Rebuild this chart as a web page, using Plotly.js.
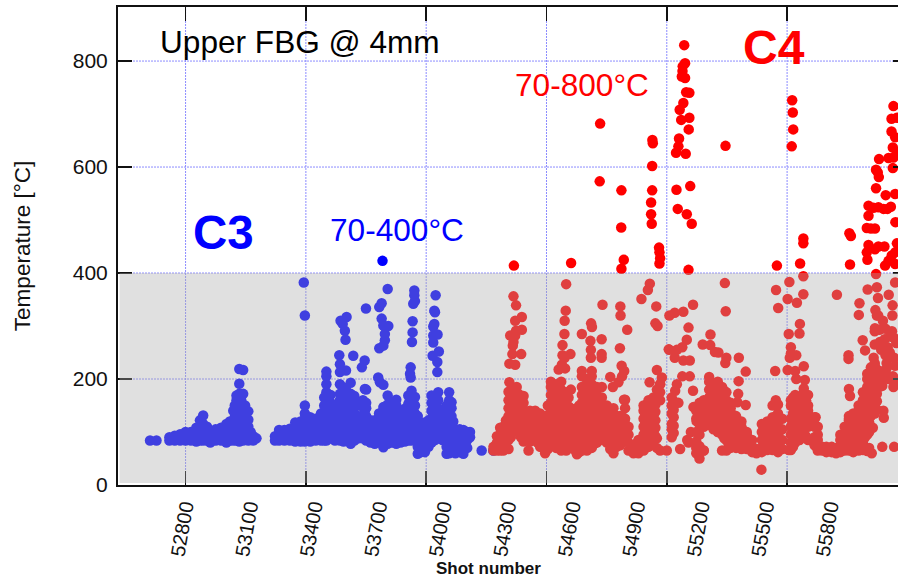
<!DOCTYPE html>
<html><head><meta charset="utf-8">
<script src="https://cdn.plot.ly/plotly-3.0.1.min.js"></script>
<style>html,body{margin:0;padding:0;overflow:hidden;background:#fff}</style>
</head><body><div id="chart"></div>
<script>
// Each row: shot number, then the temperatures read at about that shot.
const c3Columns = [
[52670,84],[52700,84],
[52760,84,90],[52785,84,93],[52810,84,93,96],[52835,84,95,100],[52860,84,92,100],[52885,82,92,100,108],
[52902,84,95,110,122],[52917,84,100,115,131],[52935,84,100,110],[52950,80,92,102],[52975,84,95,105],[53000,84,95,108],
[53025,80,92,105,115],[53041,84,100,120],[53057,84,100,118,140],[53072,84,100,120,140,160,169],
[53085,82,98,115,130,150,172,191,219],[53103,84,100,118,140,172,217],[53127,84,92,110,123,139],[53150,84,92],[53165,88],
[53251,84,92],[53270,84,95,104],[53295,84,95,104],[53320,84,95,106],[53345,82,95,110,118],[53370,82,95,110,120],
[53390,82,95,110,125,135,150],[53415,82,95,110,125,128],[53440,84,95,110,125],[53465,84,95,110,125,135],
[53480,84,100,118,135,150,165],[53490,84,100,120,140,160,175,190,205,214],[53510,88,100,115,125,140,155,170],
[53530,84,98,112,125,140],[53553,84,100,115,130,145,160,172,190,213,228],[53570,82,96,110,125,140,155,170,184],
[53581,84,100,118,135,150,165,180,216],[53603,78,92,108,122,138,155,172,193],[53620,84,100,118,135,155,168],
[53640,88,102,118,125,150],[53660,88,105,118,132,148,160],[53675,84,100,115,130,145,155,180],
[53695,80,95,110,122],[53715,78,92,105,122],[53735,82,95,110,125,135],[53755,71,85,100,115,130,140,147],
[53775,78,92,108,122,138,152,169],[53795,80,95,110,125,140,155],[53815,78,92,108,122,138,150,161],[53835,80,95,110,125,140],
[53855,82,96,110,125,140,144],[53871,84,98,112,128,142,153,169],[53886,84,100,118,135,150,165,178],[53902,85,100,118,135,150,166],
[53915,59,72,90,105,118,130],[53930,62,75,95,108,118],[53948,62,78,92,105,118],[53965,72,88,100,112,122],
[53979,80,95,110,125,140,155,169],[53995,85,100,118,135,150,165],[54010,88,100,115,130,145,160,175],[54030,85,100,115,128,140],
[54049,59,72,85,100,115,134,150],[54061,60,80,95,110,125,140,160,175],[54072,62,85,100,115,130,145,156],[54090,60,75,90,105],
[54110,62,75,90,105],[54127,59,72,88,104],[54145,70,85,100],[54158,90,100],[54212,65],[54266,65]
];
const c3Fill = [
[52772,87],[52797,88],[52822,90],[52847,90],[52872,92],[52893,96],[52927,95],[52942,92],[52962,92],[52987,90],[53012,92],[53033,96],[53048,105],[53064,110,128,150],[53078,92,110,130,150],[53094,90,108,125,140,160],[53112,90,108,125,150],[53138,90,100],
[53260,90],[53282,90],[53308,92],[53332,90,100],[53358,90,105],[53380,90,105,118],[53403,90,105,118],[53428,90,105,118],[53452,90,105,118],
[53500,95,110,130,150],[53520,95,108,130],[53542,92,108,122,138,152],[53561,92,108,122,138,152,168],[53592,92,108,122,138,155],[53612,92,108,122,145],[53630,95,110,130],[53650,95,110,125],[53668,95,110,125,140],
[53685,90,105,118],[53705,88,100,115],[53725,90,102,118],[53745,92,108,122,135],[53765,90,105,120,135],[53785,90,105,120,135],[53805,92,108,122],[53825,90,105,120,132],[53845,92,105,120,135],[53863,95,110,125,138],[53878,95,110,125,142,160],[53894,95,110,130,145,160],
[53922,80,95,110],[53940,70,88,102],[53972,90,105],[53987,92,108,128,150],[54002,95,110,128,142],[54020,95,110,125,140],[54040,90,105,120],[54055,70,92,108,122,145],[54080,75,90,105,120],[54100,68,82,98],[54120,68,82,98],[54136,78,92]
];
const c3Upper = [
[53390,320],[53385,382],[53550,245],[53556,310],[53584,317],[53576,291],[53579,274],[53566,304],[53615,244],[53668,235],[53655,222],
[53674,333],[53747,343],[53736,336],[53775,370],[53747,314],[53755,301],[53778,300],[53762,285],[53762,273],[53755,263],[53736,258],
[53731,203],[53739,194],[53755,189],[53669,181],[53899,367],[53899,358],[53894,342],[53902,347],[53891,309],[53891,288],[53888,270],
[53882,222],[53882,203],[53879,210],[53998,358],[53992,329],[53995,326],[53992,304],[53987,299],[54007,284],[53987,282],[53987,269],
[54013,252],[53984,244],[54006,232],[54006,213],[53751,423]
];
const c4Columns = [
[54267,65,72],[54283,65,80,92],[54298,65,80,95,108],[54313,65,80,95,110],[54337,68,85,100,118,130,145,160,176],
[54360,105,120,135,150,165,178],[54383,100,115,130,145,160,172],[54407,82,98,112,128,142,155,168],[54430,65],
[54437,82,98,112,128,140],[54461,90,105,120,135,140],[54484,72,88,105,120,135],[54507,60,75,90,105,120,130],
[54534,80,95,110,125,140,155,170,185,195],[54558,70,85,100,115,130,145,160,175,190],[54582,65,80,95,110,125,140,150,165,180,195],
[54605,65,80,95,110,125,140,155,175],[54627,75,90,105,120,135,145,180],[54655,58,72,85,100,115,130,145],
[54678,65,80,95,110,125,140,155,170,185,205,215],[54701,65,85,100,115,130,145,160,175,190,200],
[54724,70,85,100,115,130,145,160,175,190,205,215],[54748,80,95,110,125,140,155,170,185],[54771,90,105,120,135,150,165,185],
[54794,80,95,110,125,140,150],[54825,60,70,85,100,115,130,145],[54856,75,90,105,120,130],[54879,85,100,115,125,145,161],
[54895,65,80,95,110],[54918,60,72],[54941,60,72,85],[54965,65,82,95,110,125,140,150],[54988,72,88,105,120,135,150,160],
[55011,85,100,115,130,145,160,165],[55027,70,88,165,180,217],[55042,65,160,175,190],[55073,65],[55096,90,105,115,135,150,165],
[55135,68],[55174,80],[55210,60,70,82,100,125,140],[55225,50,64,95,115,140,155],[55245,65,110,130,160],
[55270,120,135,150,165,180,195,204],[55290,105,120,135,150,165,180,190],[55310,100,115,130,145,160,175,190,195],
[55330,65,95,110,125,140,155,170,185],[55350,65,85,100,115,130,145,160,175],[55370,70,85,100,115,130,145,155],
[55395,70,85,100,115,130],[55420,68,82,95,110,120],[55445,68,82,95,100],[55470,62,72,85],[55490,60,68],[55515,62,70,85,100,115],
[55540,66,80,95,110,120],[55565,66,80,95,108,118,128,150],[55590,62,75,92,105,120,135,152],[55610,68,85,105,125],[55640,66],
[55650,66,80,95,110,125,150,160],[55670,80,95,110,125,145,160,170],[55690,85,100,118,135,150,165],[55710,90,105,120,135,155,175],
[55730,85,110,125,140,150,170],[55760,75,90,110,125,128],[55775,65,85,95,110],[55795,65,72],[55815,62,72],[55840,62,72],[55860,60,70],
[55880,62,72,85,95],[55900,65,80,95,110],[55920,65,80,95,110,122,130,125],[55940,62,75,90,105,120,135],[55965,65,80,95,110,125,140,150],
[55985,66,82,98,115,130,145,160,175],[56005,64,95,112,125,140,155,170,185,200,210],[56022,130,145,160,180,195,210,222],
[56040,135,150,165,180,195,210,225,230],[56060,185,200,215]
];
const c4Fill = [
[54275,70],[54290,75],[54305,72,88,102],[54325,75,90,105,122],[54348,90,108,125,140,155],[54372,110,128,142,158],[54395,90,108,122,138,152],[54420,90,105,120,135],[54450,95,110,125],[54472,80,95,112,128],[54496,70,85,100,115,125],
[54520,68,85,100,115,130,150],[54546,75,92,108,122,138,152,165,178],[54570,75,92,108,122,138,152,168,182],[54594,72,88,102,118,132,148],[54616,70,88,102,118,132,148,165],[54640,68,85,100,115,128,142],[54666,62,78,92,108,122,135,150],
[54690,72,92,108,122,138,152,168,182],[54712,75,92,108,122,138,152,168,182],[54736,78,92,108,122,138,152,168,182],[54760,85,100,118,132,148,162],[54782,85,100,115,130,145],[54810,68,82,95,110,125,140],[54840,72,88,102,118,130],[54868,85,100,115,128],
[54906,70],[54930,65,78],[54976,70,88,102,118,132,145],[55000,80,95,112,128,142,155],[55020,92,108,122,138,152],[55105,98,112,128,142,158],[55240,120,145],[55280,112,128,142,158,172,188],[55300,110,128,142,158,172,186],[55320,105,122,138,152,168,182],[55340,88,102,118,132,148,162,178],[55360,78,92,108,122,138,152],[55382,72,88,102,118,132],[55408,72,88,102,115],[55432,72,88,102],
[55528,68,80,95,105],[55552,72,88,102,115],[55578,70,85,100,112,128],[55660,72,88,102,118,135,152,165],[55680,88,102,118,135,152],[55700,95,110,128,145,160],[55720,92,118,132,146,160],[55930,70,85,100,115,128],[55952,70,85,100,115,130],[55975,72,88,102,118,132,148],[55995,72,90,108,122,138,152,168],[56014,70,100,118,132,148,162,178,192,205],[56031,138,152,170,188,202,216],[56050,142,158,172,188,202,218],[56070,195,208]
];
const c4Chains = [
[54360,356],[54372,339],[54399,317],[54368,310],[54399,293],[54372,291],[54345,282],[54368,282],[54360,270],[54357,263],[54355,247],[54396,247],[54341,229],[54368,227],[54341,194],[54375,185],
[54605,379],[54603,329],[54598,310],[54597,285],[54588,264],[54588,245],[54585,227],[54625,247],[54600,220],[54570,218],[54598,240],
[54721,305],[54725,298],[54678,285],[54718,272],[54720,255],[54770,275],[54770,247],[54720,240],[54770,240],
[54774,340],[54857,337],[54858,320],[54889,293],[54855,258],[54863,225],[54810,204],[54822,185],[54865,205],[54875,215],[54848,194],[54874,161],
[54994,380],[54985,368],[54955,351],[55024,337],[55020,305],[55030,300],[54993,194],[55050,203],[55042,190],
[55085,320],[55110,325],[55150,327],[55195,340],[55174,297],[55166,274],[55145,260],[55120,255],[55082,256],
[55085,255],[55110,240],[55150,235],[55180,235],[55145,205],[55120,190],[55112,178],[55127,155],
[55180,205],[55195,178],[55197,147],[55212,120],[55220,95],[55225,73],[55244,65],[55185,100],[55168,85],
[55240,265],[55275,264],[55297,251],[55313,250],[55350,240],[55345,230],[55408,240],[55440,214],[55407,196],[55405,172],[55401,156],[55440,151],[55276,284],
[55343,381],[55347,328],[55581,368],[55591,334],[55577,215],[55513,29],[55580,160],[55590,125],[55595,100],
[55643,383],[55635,351],[55678,344],[55708,394],[55708,360],[55692,304],[55690,286],[55640,285],[55650,260],[55650,248],[55675,245],[55645,240],[55635,217],[55670,215],[55710,224],[55675,200],[55715,198],[55710,182],
[55720,160],[55765,128],[55660,158],
[55918,245],[55918,238],[55920,181],[55925,168],
[55864,359],[55969,343],[55966,321],[56007,369],[56050,373],[56055,353],[56105,359],[56123,339],[55984,273],[55995,254],[56035,240],[56040,265],[56075,214],[56075,187],[56080,140],[56082,127],[56030,138],[56031,108],
[56041,296],[56050,320],[56043,330],[56056,320],[56078,310],[56122,320],[56040,290],[56062,293],[56090,295],[56110,280],[56064,270],[56086,275],[56100,260],[56120,290],[56129,278],[56140,268],[56070,255],[56090,245],[56110,250],[56130,240],[56095,230],[56098,222],[56105,200],[56093,210],[56125,205],[56135,225],[56145,198],[56127,185],[56075,72],[56026,60],[56130,72],[56135,382]
];
const c4Upper = [
[54362,414],[54628,419],[54763,682],[54761,573],[54862,556],[54861,486],[54873,425],[54862,408],[55006,651],[55008,645],[55005,602],[55005,556],[55000,533],[55000,511],[55003,493],
[55037,448],[55039,439],[55042,428],[55039,418],[55154,830],[55158,796],[55147,790],[55146,781],[55143,771],[55158,768],[55163,741],[55178,740],[55150,721],[55133,708],[55140,689],[55178,693],[55175,671],[55130,654],[55127,639],[55116,627],[55161,625],[55118,557],[55182,564],[55124,521],[55166,511],[55189,493],[55174,406],
[55346,640],[55585,414],[55656,726],[55659,703],[55661,671],[55654,639],[55708,465],[55708,456],[55693,418],[55922,475],[55929,470],[55925,416],
[56127,715],[56118,691],[56143,693],[56118,667],[56135,656],[56124,637],[56143,625],[56060,615],[56104,617],[56127,618],[56124,598],[56046,595],[56054,590],[56059,581],[56046,560],[56091,547],[56135,549],
[56011,527],[56034,523],[56057,524],[56081,521],[56099,521],[56115,525],[56011,508],[56003,485],[56022,484],[56041,484],[56136,496],[56143,456],[56011,453],[56003,439],[56006,425],[56041,445],[56057,450],[56085,450],[56119,433],[56135,439],[56104,423],[56088,414],[56135,417],[56046,398]
];
const shotTicks = [52800,53100,53400,53700,54000,54300,54600,54900,55200,55500,55800];
const tempTicks = [0,200,400,600,800];
const gridShots = [52800,53400,54000,54600,55200,55800,56400];
const gridTemps = [200,400,600,800];

function flat(cols){const x=[],y=[];cols.forEach(c=>c.slice(1).forEach(t=>{x.push(c[0]);y.push(t);}));return {x,y};}
const blue=flat(c3Columns.concat(c3Fill,c3Upper)), red=flat(c4Columns.concat(c4Fill,c4Chains,c4Upper));
const font='"Liberation Sans",Arial,sans-serif';
const marker=c=>({color:c,size:10.5,line:{width:0}});
const traces=[
 {type:'scatter',mode:'markers',x:blue.x,y:blue.y,marker:marker('#0000ff'),name:'C3',hoverinfo:'x+y'},
 {type:'scatter',mode:'markers',x:red.x,y:red.y,marker:marker('#ff0000'),name:'C4',hoverinfo:'x+y'},
 {type:'scatter',mode:'markers',x:[],y:[],xaxis:'x2',showlegend:false}
];
const gridLine={color:'#8c8cff',width:1,dash:'2px,1px'};
const ann=(t,x,y,size,color,bold)=>({text:bold?'<b>'+t+'</b>':t,xref:'paper',yref:'paper',x:(x-118)/789,y:(485-y)/478,xanchor:'left',yanchor:'middle',showarrow:false,font:{family:font,size:size,color:color}});
const layout={
 width:907,height:580,margin:{l:118,r:0,t:7,b:95},paper_bgcolor:'#fff',plot_bgcolor:'#fff',showlegend:false,
 font:{family:font,color:'#000'},
 xaxis:{range:[52521,56190],tickmode:'array',tickvals:shotTicks,ticktext:shotTicks.map(String),tickangle:-80,ticks:'',ticklabelshift:6,
  tickfont:{size:20,color:'#111'},showgrid:false,zeroline:false,showline:true,linecolor:'#111',linewidth:2,mirror:true},
 xaxis2:{overlaying:'x',side:'bottom',anchor:'y',range:[52463,56398],tick0:52800,dtick:600,ticks:'inside',ticklen:14,tickwidth:1.5,tickcolor:'#111',
  showticklabels:false,mirror:'ticks',showgrid:false,zeroline:false,showline:false},
 yaxis:{range:[0,902],tickmode:'array',tickvals:tempTicks,ticks:'inside',ticklen:14,tickwidth:1.5,tickcolor:'#111',tickfont:{size:21,color:'#111'},ticklabelstandoff:4,
  mirror:'ticks',showgrid:false,zeroline:false,showline:true,linecolor:'#111',linewidth:2,
  title:{text:'Temperature [°C]',font:{size:22.5,color:'#111'},standoff:36}},
 shapes:[
  ...gridShots.map(s=>({type:'line',layer:'below',xref:'x2',yref:'paper',x0:s,x1:s,y0:0,y1:1,line:gridLine})),
  ...gridTemps.map(t=>({type:'line',layer:'below',xref:'paper',yref:'y',x0:0,x1:1,y0:t,y1:t,line:gridLine})),
  {type:'rect',layer:'above',xref:'paper',yref:'y',x0:0.002,x1:1,y0:4,y1:400,fillcolor:'rgba(172,172,172,0.37)',line:{width:0}}
 ],
 annotations:[
  ann('Upper FBG @ 4mm',158,42,31.6,'#000'),
  ann('C3',191,232,47.5,'#0000ff',true),
  ann('C4',741,48,48,'#ff0000',true),
  ann('70-400°C',328,230,31.6,'#0000ff'),
  ann('70-800°C',513,85,31.6,'#ff0000'),
  ann('Shot number',434,568,17,'#111',true)
 ]
};
Plotly.newPlot('chart',traces,layout,{displayModeBar:false,staticPlot:true});
</script></body></html>
